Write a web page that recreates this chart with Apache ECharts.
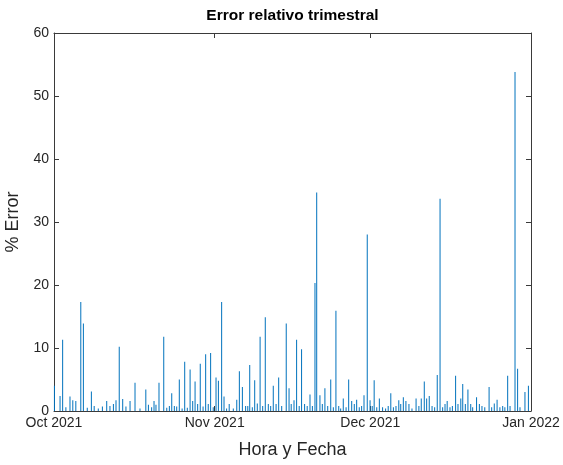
<!DOCTYPE html>
<html><head><meta charset="utf-8">
<script src="https://cdn.jsdelivr.net/npm/echarts@6/dist/echarts.min.js"></script>
<style>html,body{margin:0;padding:0;background:#fff}#c{width:563px;height:465px}</style>
</head><body><div id="c"></div>
<script>
// ---- DATA ----
const times = [
 '2021-10-01 02:00','2021-10-02 04:00','2021-10-02 16:00','2021-10-03 07:00','2021-10-04 02:00','2021-10-04 15:00',
 '2021-10-05 05:00','2021-10-06 04:00','2021-10-06 16:00','2021-10-07 10:00','2021-10-08 05:00','2021-10-08 18:00',
 '2021-10-09 13:00','2021-10-10 08:00','2021-10-11 04:00','2021-10-11 19:00','2021-10-12 11:00','2021-10-12 23:00',
 '2021-10-13 14:00','2021-10-14 06:00','2021-10-14 21:00','2021-10-15 16:00','2021-10-16 15:00','2021-10-17 14:00',
 '2021-10-18 17:00','2021-10-19 05:00','2021-10-19 20:00','2021-10-20 07:00','2021-10-20 16:00','2021-10-21 06:00',
 '2021-10-22 04:00','2021-10-22 18:00','2021-10-23 06:00','2021-10-23 17:00','2021-10-24 05:00','2021-10-24 16:00',
 '2021-10-25 04:00','2021-10-25 17:00','2021-10-26 05:00','2021-10-26 17:00','2021-10-27 06:00','2021-10-27 18:00',
 '2021-10-28 05:00','2021-10-28 17:00','2021-10-29 05:00','2021-10-29 18:00','2021-10-30 06:00','2021-10-30 18:00',
 '2021-10-31 05:00','2021-10-31 17:00','2021-11-01 06:00','2021-11-01 17:00','2021-11-02 08:00','2021-11-02 19:00',
 '2021-11-03 07:00','2021-11-03 19:00','2021-11-04 14:00','2021-11-05 06:00','2021-11-05 18:00','2021-11-06 08:00',
 '2021-11-06 23:00','2021-11-07 09:00','2021-11-07 18:00','2021-11-08 06:00','2021-11-08 17:00','2021-11-09 05:00',
 '2021-11-09 18:00','2021-11-10 06:00','2021-11-10 18:00','2021-11-11 08:00','2021-11-11 19:00','2021-11-12 07:00',
 '2021-11-12 20:00','2021-11-13 08:00','2021-11-13 22:00','2021-11-14 19:00','2021-11-15 08:00','2021-11-15 18:00',
 '2021-11-16 07:00','2021-11-16 19:00','2021-11-17 07:00','2021-11-17 18:00','2021-11-18 08:00','2021-11-18 20:00',
 '2021-11-19 09:00','2021-11-19 20:00','2021-11-20 08:00','2021-11-20 16:00','2021-11-21 07:00','2021-11-21 18:00',
 '2021-11-22 06:00','2021-11-22 19:00','2021-11-23 09:00','2021-11-23 21:00','2021-11-24 09:00','2021-11-24 22:00',
 '2021-11-25 07:00','2021-11-25 19:00','2021-11-26 08:00','2021-11-26 20:00','2021-11-27 10:00','2021-11-27 22:00',
 '2021-11-28 09:00','2021-11-28 21:00','2021-11-29 08:00','2021-11-29 19:00','2021-11-30 10:00','2021-11-30 23:00',
 '2021-12-01 09:00','2021-12-01 18:00','2021-12-02 06:00','2021-12-02 18:00','2021-12-03 09:00','2021-12-03 23:00',
 '2021-12-04 11:00','2021-12-04 23:00','2021-12-05 11:00','2021-12-05 23:00','2021-12-06 12:00','2021-12-06 21:00',
 '2021-12-07 09:00','2021-12-07 21:00','2021-12-08 11:00','2021-12-09 01:00','2021-12-09 20:00','2021-12-10 09:00',
 '2021-12-10 20:00','2021-12-11 10:00','2021-12-11 21:00','2021-12-12 09:00','2021-12-12 22:00','2021-12-13 10:00',
 '2021-12-13 22:00','2021-12-14 11:00','2021-12-14 23:00','2021-12-15 10:00','2021-12-15 20:00','2021-12-16 09:00',
 '2021-12-16 20:00','2021-12-17 11:00','2021-12-17 22:00','2021-12-18 11:00','2021-12-18 20:00','2021-12-19 08:00',
 '2021-12-19 20:00','2021-12-20 09:00','2021-12-20 18:00','2021-12-21 12:00','2021-12-22 01:00','2021-12-22 13:00',
 '2021-12-23 02:00','2021-12-23 22:00','2021-12-24 10:00','2021-12-24 22:00','2021-12-25 11:00','2021-12-26 00:00',
 '2021-12-26 13:00','2021-12-26 23:00','2021-12-27 12:00','2021-12-27 23:00','2021-12-28 22:00','2021-12-29 10:00',
 '2021-12-29 21:00','2021-12-30 20:00','2021-12-31 12:00'
];
const errors = [
 4.0,2.4,11.3,0.6,2.3,1.7,
 1.6,17.3,13.9,0.5,3.1,0.8,
 0.4,0.7,1.6,0.8,1.1,1.7,
 10.2,1.9,0.7,1.6,4.5,0.4,
 3.4,1.0,0.6,1.6,1.0,4.5,
 11.8,0.5,0.8,2.8,0.8,0.7,
 5.0,0.4,7.8,0.5,6.6,1.6,
 4.7,1.1,7.5,0.7,9.0,1.1,
 9.2,0.6,5.3,4.8,17.3,2.3,
 0.4,1.1,0.4,1.8,6.3,3.8,
 0.8,0.8,7.3,0.6,4.9,1.2,
 11.8,0.8,14.9,1.1,0.8,4.0,
 1.1,5.3,0.8,13.9,3.6,1.1,
 1.7,11.3,0.8,9.8,1.1,0.8,
 2.6,0.8,20.3,34.7,2.5,1.1,
 3.6,0.8,5.0,0.6,15.9,0.8,
 0.4,2.0,0.6,5.0,1.6,1.1,
 1.8,0.6,0.8,2.5,28.0,1.7,
 0.8,4.9,0.6,2.0,0.6,0.4,
 0.8,2.8,0.6,0.8,1.7,1.1,
 2.2,1.6,1.1,0.4,2.0,0.8,
 2.0,4.7,2.0,2.4,0.8,0.6,
 5.7,33.7,0.6,1.1,1.6,0.6,
 0.8,5.6,1.1,2.0,4.3,1.1,
 3.4,1.1,0.6,2.2,1.1,0.8,
 0.6,3.8,0.6,1.2,1.8,0.6,
 0.8,0.6,5.6,0.8,53.8,6.7,
 0.6,3.0,4.0
];
const xTickDates = ['2021-10-01 00:00','2021-11-01 00:00','2021-12-01 00:00','2022-01-01 00:00'];
const xTickLabels = ['Oct 2021','Nov 2021','Dec 2021','Jan 2022'];
const yTicks = [0,10,20,30,40,50,60];

// ---- CHART ----
function ts(s){ return new Date(s.replace(' ','T')+':00').getTime(); }
const tickVals = xTickDates.map(ts);
const xMin = tickVals[0], xMax = tickVals[tickVals.length-1];
const seriesData = times.map((t,i)=>[ts(t), errors[i]]);
const axisColor = '#3a3a3a';
const textColor = '#262626';
const FONT = 'Liberation Sans, Arial, sans-serif';

const chart = echarts.init(document.getElementById('c'), null, {renderer:'canvas'});
chart.setOption({
  animation:false,
  backgroundColor:'#fff',
  grid:{left:54, right:32, top:33, bottom:54, containLabel:false, outerBoundsMode:'none'},
  graphic:[{type:'text', x:292.5, y:16, style:{text:'Error relativo trimestral', font:'bold 15.5px '+FONT, fill:'#000', textAlign:'center', textVerticalAlign:'middle'}}],
  xAxis:[{
    type:'value', min:xMin, max:xMax, position:'bottom',
    name:'Hora y Fecha', nameLocation:'middle', nameGap:30,
    nameTextStyle:{fontFamily:FONT, fontSize:18, color:textColor},
    axisLine:{show:true, onZero:false, lineStyle:{color:axisColor, width:1}},
    axisTick:{show:true, inside:true, length:5, customValues:tickVals, lineStyle:{color:axisColor}},
    axisLabel:{show:true, customValues:tickVals, margin:5, fontFamily:FONT, fontSize:14, color:textColor,
      formatter:function(v){ const i = tickVals.indexOf(v); return i>=0 ? xTickLabels[i] : ''; }},
    splitLine:{show:false}
  },{
    type:'value', min:xMin, max:xMax, position:'top',
    axisLine:{show:true, onZero:false, lineStyle:{color:axisColor, width:1}},
    axisTick:{show:true, inside:true, length:5, customValues:tickVals, lineStyle:{color:axisColor}},
    axisLabel:{show:false}, splitLine:{show:false}
  }],
  yAxis:[{
    type:'value', min:0, max:60, interval:10, position:'left',
    name:'% Error', nameLocation:'middle', nameGap:24, nameRotate:90,
    nameTextStyle:{fontFamily:FONT, fontSize:18, color:textColor},
    axisLine:{show:true, lineStyle:{color:axisColor, width:1}},
    axisTick:{show:true, inside:true, length:5, lineStyle:{color:axisColor}},
    axisLabel:{fontFamily:FONT, fontSize:14, color:textColor, margin:5,
      formatter:function(v){ return yTicks.indexOf(v)>=0 ? String(v) : ''; }},
    splitLine:{show:false}
  },{
    type:'value', min:0, max:60, interval:10, position:'right',
    axisLine:{show:true, lineStyle:{color:axisColor, width:1}},
    axisTick:{show:true, inside:true, length:5, lineStyle:{color:axisColor}},
    axisLabel:{show:false}, splitLine:{show:false}
  }],
  series:[{
    type:'bar', xAxisIndex:0, yAxisIndex:0,
    data:seriesData, barWidth:1,
    itemStyle:{color:'#0072BD'},
    emphasis:{disabled:true}
  }]
});
</script></body></html>
